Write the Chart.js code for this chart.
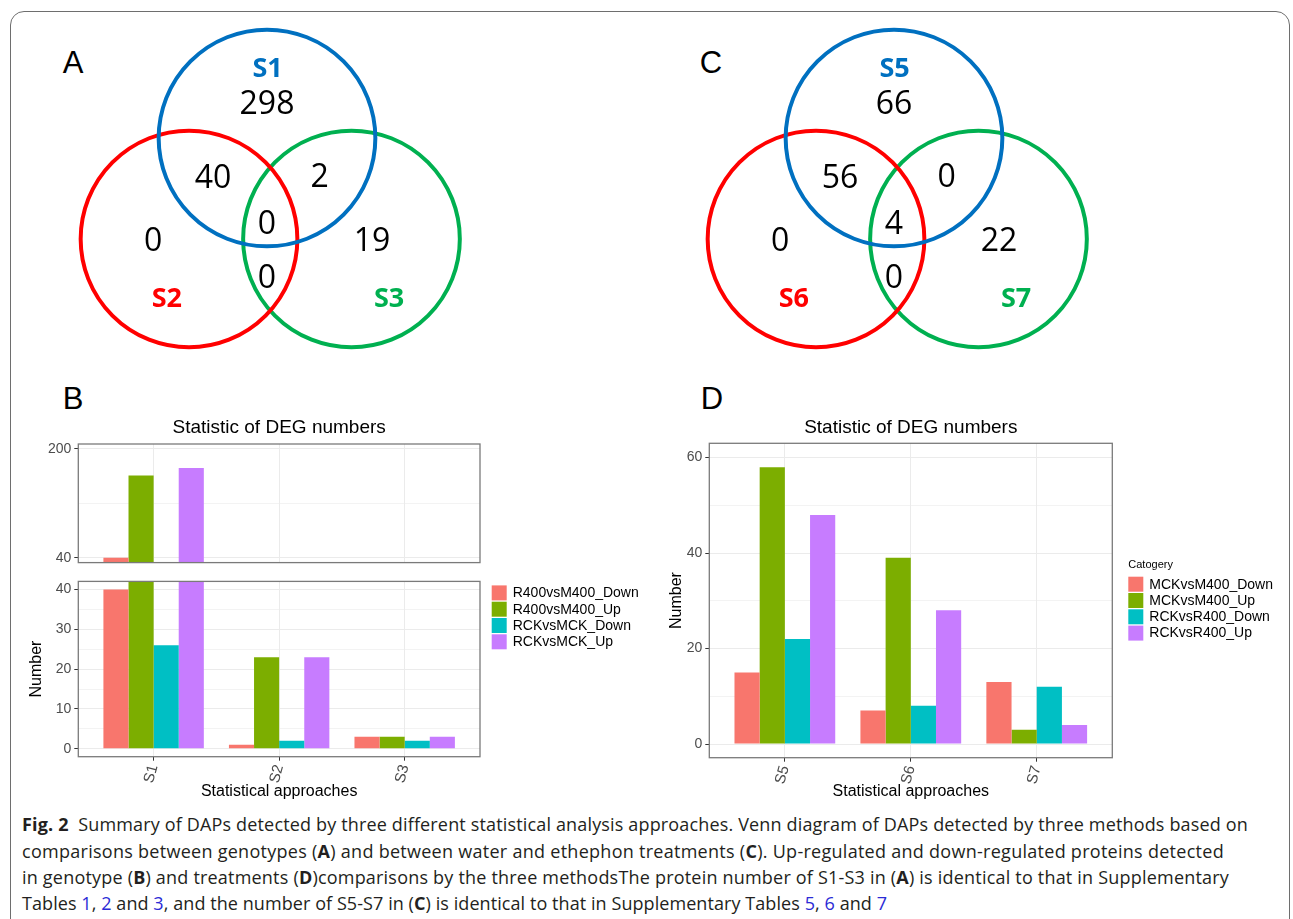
<!DOCTYPE html>
<html>
<head>
<meta charset="utf-8">
<title>Fig. 2 - Statistic of DEG numbers</title>
<script src="https://cdn.jsdelivr.net/npm/chart.js@4.4.1/dist/chart.umd.min.js"></script>
<style>
  html, body { margin: 0; padding: 0; background: #fff; }
  body { width: 1293px; height: 919px; position: relative; overflow: hidden; font-family: "Liberation Sans", Arial, sans-serif; }
  .frame { position: absolute; left: 10px; top: 11px; width: 1280px; height: 940px; box-sizing: border-box; border: 1px solid #6e6e6e; border-radius: 14px; }
  canvas { position: absolute; }
  .tag { position: absolute; font-size: 31px; line-height: 31px; color: #000; transform: translateX(-50%); }
  .cap { position: absolute; left: 22px; white-space: nowrap; font-family: "Open Sans", sans-serif; font-size: 18px; line-height: 18px; color: #231f20; }
  .cap b { font-weight: 700; }
  .cap .ref { color: #2b2bd6; }
</style>
</head>
<body>
<div class="frame"></div>

<div class="tag" style="left:73px; top:47px;">A</div>
<div class="tag" style="left:711px; top:47px;">C</div>
<div class="tag" style="left:73px; top:383px;">B</div>
<div class="tag" style="left:712px; top:383px;">D</div>

<canvas id="vennA" width="480" height="370" style="left:0; top:0;"></canvas>
<canvas id="vennC" width="480" height="370" style="left:627px; top:0;"></canvas>
<canvas id="barsBUpper" width="660" height="174" style="left:0; top:400px;"></canvas>
<canvas id="barsBLower" width="660" height="240" style="left:0; top:570px;"></canvas>
<canvas id="barsD" width="653" height="410" style="left:640px; top:400px;"></canvas>

<div class="cap" data-w="1226" style="top:815px;"><b>Fig. 2</b>&nbsp; Summary of DAPs detected by three different statistical analysis approaches. Venn diagram of DAPs detected by three methods based on</div>
<div class="cap" data-w="1202" style="top:842px;">comparisons between genotypes (<b>A</b>) and between water and ethephon treatments (<b>C</b>). Up-regulated and down-regulated proteins detected</div>
<div class="cap" data-w="1207" style="top:868px;">in genotype (<b>B</b>) and treatments (<b>D</b>)comparisons by the three methodsThe protein number of S1-S3 in (<b>A</b>) is identical to that in Supplementary</div>
<div class="cap" data-w="865" style="top:894px;">Tables <span class="ref">1</span>, <span class="ref">2</span> and <span class="ref">3</span>, and the number of S5-S7 in (<b>C</b>) is identical to that in Supplementary Tables <span class="ref">5</span>, <span class="ref">6</span> and <span class="ref">7</span></div>

<script>
// ---- Datos: Venn (A, C) ----
// orden de regiones: solo 1, 1&2, 1&3, 1&2&3, solo 2, 2&3, solo 3
const vennSetsA = ['S1', 'S2', 'S3'];
const vennCountsA = [298, 40, 2, 0, 0, 0, 19];
const vennSetsC = ['S5', 'S6', 'S7'];
const vennCountsC = [66, 56, 0, 4, 0, 0, 22];

// ---- Datos: barras B ----
const groupsB = ['S1', 'S2', 'S3'];
const seriesB = ['R400vsM400_Down', 'R400vsM400_Up', 'RCKvsMCK_Down', 'RCKvsMCK_Up'];
const r400DownB = [40, 1, 3];
const r400UpB = [161, 23, 3];
const rckDownB = [26, 2, 2];
const rckUpB = [172, 23, 3];
const upperTicksB = [40, 120, 200];
const upperLabelsB = [40, 200];
const lowerTicksB = [0, 5, 10, 15, 20, 25, 30, 35, 40];
const lowerLabelsB = [0, 10, 20, 30, 40];

// ---- Datos: barras D ----
const groupsD = ['S5', 'S6', 'S7'];
const seriesD = ['MCKvsM400_Down', 'MCKvsM400_Up', 'RCKvsR400_Down', 'RCKvsR400_Up'];
const mckDownD = [15, 7, 13];
const mckUpD = [58, 39, 3];
const rckDownD = [22, 8, 12];
const rckUpD = [48, 28, 4];
const ticksD = [0, 10, 20, 30, 40, 50, 60];
const labelsD = [0, 20, 40, 60];

const FONT = '"Liberation Sans", Arial, sans-serif';
const hue4 = ['#F8766D', '#7CAE00', '#00BFC4', '#C77CFF'];
const vennColors = ['#0070C0', '#FF0000', '#00B050'];

// geometria del Venn, en radios (unidad = unitPx)
const vennGeom = {
    unitPx: 110,
    originPx: [267, 138],
    radius: 0.985,
    centers: [[0, 0], [-0.709, -0.918], [0.768, -0.918]],
    regions: [[0, 0.32], [-0.49, -0.353], [0.478, -0.34], [0, -0.772], [-1.036, -0.926], [0, -1.262], [0.955, -0.926]],
    setLabels: [[0.005, 0.643], [-0.91, -1.45], [1.11, -1.45]]
};

// Textos del Venn (numeros y nombres)
const vennText = {
    id: 'vennText',
    afterDatasetsDraw(chart, args, opts) {
        const { ctx } = chart;
        const { x, y } = chart.scales;
        ctx.save();
        ctx.textAlign = 'center';
        ctx.textBaseline = 'alphabetic';
        ctx.fillStyle = '#000';
        ctx.font = '32px "Open Sans"';
        opts.counts.forEach((c, i) => {
            const [vx, vy] = vennGeom.regions[i];
            ctx.fillText(String(c), x.getPixelForValue(vx), y.getPixelForValue(vy) + 11.4);
        });
        ctx.font = 'bold 27px "Open Sans"';
        opts.sets.forEach((s, i) => {
            const [vx, vy] = vennGeom.setLabels[i];
            ctx.fillStyle = vennColors[i];
            ctx.fillText(s, x.getPixelForValue(vx), y.getPixelForValue(vy) + 9.6);
        });
        ctx.restore();
    }
};

function vennChart(id, sets, counts) {
    const cv = document.getElementById(id);
    const u = vennGeom.unitPx;
    const [ox, oy] = vennGeom.originPx;
    return new Chart(cv, {
        type: 'scatter',
        data: {
            datasets: sets.map((name, i) => ({
                label: name,
                data: [{ x: vennGeom.centers[i][0], y: vennGeom.centers[i][1] }],
                borderColor: vennColors[i],
                borderWidth: 4,
                backgroundColor: 'rgba(0,0,0,0)',
                pointRadius: c => vennGeom.radius * (c.chart.scales.x.getPixelForValue(1) - c.chart.scales.x.getPixelForValue(0))
            }))
        },
        options: {
            responsive: false,
            animation: false,
            events: [],
            devicePixelRatio: 1,
            layout: { padding: 0 },
            scales: {
                x: { type: 'linear', display: false, min: -ox / u, max: (cv.width - ox) / u },
                y: { type: 'linear', display: false, min: -(cv.height - oy) / u, max: oy / u }
            },
            plugins: {
                legend: { display: false },
                tooltip: { enabled: false },
                vennText: { sets: sets, counts: counts }
            }
        },
        plugins: [vennText]
    });
}

// Borde del panel (estilo theme_bw)
const panelBorder = {
    id: 'panelBorder',
    afterDraw(chart) {
        const { ctx, chartArea: a } = chart;
        ctx.save();
        ctx.strokeStyle = '#7a7a7a';
        ctx.lineWidth = 1.3;
        ctx.strokeRect(a.left, a.top, a.width, a.height);
        ctx.restore();
    }
};

// Leyenda a la derecha del panel
const sideLegend = {
    id: 'sideLegend',
    afterDraw(chart, args, opts) {
        if (!opts.show) return;
        const { ctx, chartArea: a } = chart;
        const x = a.right + opts.dx;
        const top = a.top + opts.dy;
        ctx.save();
        ctx.textAlign = 'left';
        ctx.textBaseline = 'middle';
        if (opts.title) {
            ctx.fillStyle = '#000';
            ctx.font = '11px ' + FONT;
            ctx.fillText(opts.title, x, top - 11.5);
        }
        ctx.font = '14px ' + FONT;
        chart.data.datasets.forEach((ds, i) => {
            const y = top + i * 16.3;
            ctx.fillStyle = ds.backgroundColor;
            ctx.fillRect(x, y, 15, 15);
            ctx.fillStyle = '#000';
            ctx.fillText(ds.label, x + 21, y + 8);
        });
        ctx.restore();
    }
};

function barDatasets(names, columns) {
    return names.map((name, i) => ({
        label: name,
        data: columns[i].map((v, k) => ({ x: k, y: v })),
        backgroundColor: hue4[i],
        borderWidth: 0,
        categoryPercentage: 0.8,
        barPercentage: 1,
        clip: 0
    }));
}

function barChart(id, cfg) {
    const isMajor = (list, c) => c.tick && list.includes(c.tick.value);
    return new Chart(document.getElementById(id), {
        type: 'bar',
        data: { datasets: cfg.datasets },
        options: {
            responsive: false,
            animation: false,
            events: [],
            devicePixelRatio: 1,
            layout: { padding: cfg.pad },
            scales: {
                x: {
                    type: 'linear',
                    min: -0.6,
                    max: cfg.groups.length - 0.4,
                    bounds: 'data',
                    offset: false,
                    afterBuildTicks: s => { s.ticks = cfg.groups.map((g, i) => ({ value: i })); },
                    afterFit: s => { s.height = cfg.xHeight; },
                    grid: { offset: false, color: '#ebebeb', lineWidth: 1, drawTicks: cfg.showX, tickLength: 4, tickColor: '#333', tickWidth: 1 },
                    border: { display: false },
                    ticks: {
                        display: cfg.showX,
                        autoSkip: false,
                        minRotation: 75,
                        maxRotation: 75,
                        padding: 2,
                        color: '#4d4d4d',
                        font: { family: FONT, size: 15 },
                        callback: v => cfg.groups[v]
                    },
                    title: { display: cfg.showX, text: 'Statistical approaches', color: '#000', font: { family: FONT, size: 16 }, padding: { top: 0, bottom: 8.7 } }
                },
                y: {
                    min: cfg.yMin,
                    max: cfg.yMax,
                    bounds: 'data',
                    afterBuildTicks: s => { s.ticks = cfg.yTicks.map(v => ({ value: v })); },
                    afterFit: s => { s.width = cfg.yWidth; },
                    grid: {
                        color: '#ebebeb',
                        lineWidth: c => isMajor(cfg.yLabels, c) ? 1 : 0.6,
                        tickLength: 4,
                        tickWidth: 1,
                        tickColor: c => isMajor(cfg.yLabels, c) ? '#333' : 'rgba(0,0,0,0)'
                    },
                    border: { display: false },
                    ticks: {
                        padding: 3,
                        color: '#4d4d4d',
                        font: { family: FONT, size: 14 },
                        callback: v => cfg.yLabels.includes(v) ? String(v) : ''
                    },
                    title: { display: !!cfg.yTitle, text: cfg.yTitle || '', color: '#000', font: { family: FONT, size: 16 }, padding: { top: cfg.yTitlePad || 0, bottom: 0 } }
                }
            },
            plugins: {
                legend: { display: false },
                tooltip: { enabled: false },
                title: cfg.title
                    ? { display: true, text: cfg.title, fullSize: false, color: '#000', font: { family: FONT, size: 19, weight: 'normal' }, padding: cfg.titlePad }
                    : { display: false },
                sideLegend: cfg.legend || { show: false }
            }
        },
        plugins: [panelBorder, sideLegend]
    });
}

// Inicializar todo
function initFigure() {
    vennChart('vennA', vennSetsA, vennCountsA);
    vennChart('vennC', vennSetsC, vennCountsC);

    const colsB = [r400DownB, r400UpB, rckDownB, rckUpB];
    barChart('barsBUpper', {
        groups: groupsB,
        datasets: barDatasets(seriesB, colsB),
        yMin: 32.7, yMax: 207.3,
        yTicks: upperTicksB, yLabels: upperLabelsB,
        yWidth: 78.3, xHeight: 0, showX: false,
        pad: { left: 0, right: 180, top: 0, bottom: 10 },
        title: 'Statistic of DEG numbers',
        titlePad: { top: 16.6, bottom: 4.6 }
    });
    barChart('barsBLower', {
        groups: groupsB,
        datasets: barDatasets(seriesB, colsB),
        yMin: -2, yMax: 42.05,
        yTicks: lowerTicksB, yLabels: lowerLabelsB,
        yWidth: 78.3, xHeight: 53.3, showX: true,
        yTitle: 'Number', yTitlePad: 26.9,
        pad: { left: 0, right: 180, top: 7.7, bottom: 0 },
        legend: { show: true, dx: 11.7, dy: 4 }
    });
    barChart('barsD', {
        groups: groupsD,
        datasets: barDatasets(seriesD, [mckDownD, mckUpD, rckDownD, rckUpD]),
        yMin: -2.87, yMax: 63,
        yTicks: ticksD, yLabels: labelsD,
        yWidth: 69.3, xHeight: 52.3, showX: true,
        yTitle: 'Number', yTitlePad: 27,
        pad: { left: 0, right: 180.7, top: 0, bottom: 0 },
        title: 'Statistic of DEG numbers',
        titlePad: { top: 16.6, bottom: 3.9 },
        legend: { show: true, dx: 16, dy: 133.4, title: 'Catogery' }
    });

    // ajustar el pie de figura al ancho de cada linea
    document.querySelectorAll('.cap').forEach(el => {
        const target = Number(el.dataset.w);
        const w = el.getBoundingClientRect().width;
        const n = el.textContent.length;
        el.style.letterSpacing = ((target - w) / n).toFixed(3) + 'px';
    });
}

document.addEventListener('DOMContentLoaded', initFigure);
</script>
</body>
</html>
